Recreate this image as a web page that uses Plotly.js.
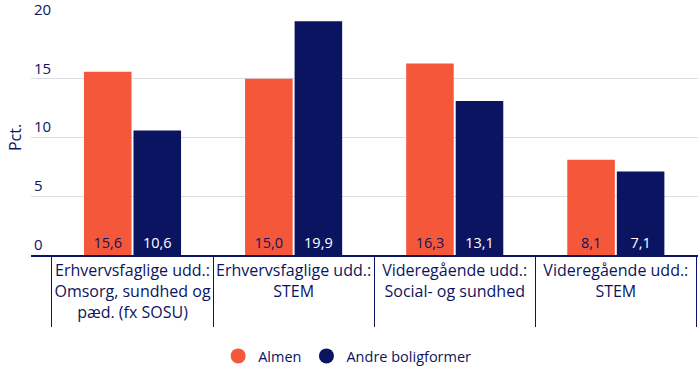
<!DOCTYPE html>
<html>
<head>
<meta charset="utf-8">
<script src="https://cdn.plot.ly/plotly-3.0.1.min.js"></script>
<style>html,body{margin:0;padding:0;background:#fff;}#chart{width:698px;height:372px;}</style>
</head>
<body>
<div id="chart"></div>
<script>
const categories = [
  "Erhvervsfaglige udd.:<br>Omsorg, sundhed og<br>pæd. (fx SOSU)",
  "Erhvervsfaglige udd.:<br>STEM",
  "Videregående udd.:<br>Social- og sundhed",
  "Videregående udd.:<br>STEM"
];
const almen = [15.6, 15.0, 16.3, 8.1];
const andre = [10.6, 19.9, 13.1, 7.1];
const seriesNames = ["Almen", "Andre boligformer"];
const yTicks = [0, 5, 10, 15, 20];

const orange = "#F5573B";
const navy = "#0B1461";
const fmt = v => v.toFixed(1).replace(".", ",");
const FONT = "'Open Sans', Lato, sans-serif";

const traces = [
  {type: "bar", x: categories, y: almen, name: seriesNames[0], marker: {color: orange},
   text: almen.map(fmt), textposition: "inside", insidetextanchor: "start",
   textfont: {color: navy, size: 14.5, family: FONT}, showlegend: false, hoverinfo: "y"},
  {type: "bar", x: categories, y: andre, name: seriesNames[1], marker: {color: navy},
   text: andre.map(fmt), textposition: "inside", insidetextanchor: "start",
   textfont: {color: "#ffffff", size: 14.5, family: FONT}, showlegend: false, hoverinfo: "y"},
  {type: "scatter", mode: "markers", x: [null], y: [null], name: seriesNames[0],
   marker: {color: orange, size: 15, symbol: "circle"}},
  {type: "scatter", mode: "markers", x: [null], y: [null], name: seriesNames[1],
   marker: {color: navy, size: 15, symbol: "circle"}}
];

const layout = {
  width: 698, height: 372,
  margin: {l: 31, r: 0, t: 20, b: 115},
  paper_bgcolor: "#ffffff", plot_bgcolor: "#ffffff",
  font: {family: FONT, color: navy, size: 15},
  barmode: "group", bargap: 0.385, bargroupgap: 0.04,
  showlegend: true,
  legend: {orientation: "h", x: 0.474, xanchor: "center", y: -0.43, yanchor: "middle",
           font: {size: 14.5, color: navy}, itemwidth: 30},
  xaxis: {
    type: "category", range: [-0.63, 3.51], tickangle: 0,
    showline: true, linecolor: navy, linewidth: 2,
    tickson: "boundaries", ticks: "outside", ticklen: 70, tickcolor: navy, tickwidth: 1,
    showgrid: false, tickfont: {size: 16, color: navy}, fixedrange: true
  },
  yaxis: {
    range: [0, 20], tickvals: yTicks, ticktext: yTicks.map(String),
    ticklabelposition: "inside top", ticklabeloverflow: "allow",
    showgrid: true, gridcolor: "#dcdde2", gridwidth: 1,
    zeroline: false, showline: false, ticks: "",
    tickfont: {size: 15, color: navy},
    title: {text: "Pct.", font: {size: 16, color: navy}, standoff: 8},
    fixedrange: true
  }
};

Plotly.newPlot("chart", traces, layout, {displayModeBar: false, staticPlot: true});
</script>
</body>
</html>
